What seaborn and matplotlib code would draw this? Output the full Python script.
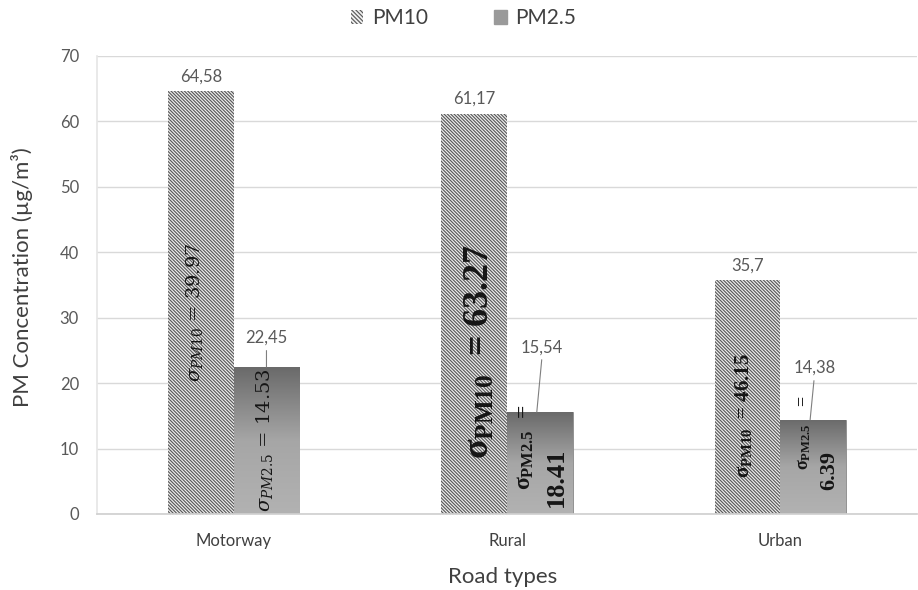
import numpy as np
import pandas as pd
import matplotlib
matplotlib.use("Agg")
import matplotlib.pyplot as plt
import seaborn as sns
from matplotlib.patches import Patch
from matplotlib.colors import LinearSegmentedColormap

# ---------------- data ----------------
road_types = ["Motorway", "Rural", "Urban"]
pm10 = [64.58, 61.17, 35.7]
pm25 = [22.45, 15.54, 14.38]
pm10_labels = ["64,58", "61,17", "35,7"]
pm25_labels = ["22,45", "15,54", "14,38"]
sigma_pm10 = ["39.97", "63.27", "46.15"]
sigma_pm25 = ["14.53", "18.41", "6.39"]
series = ["PM10", "PM2.5"]
yticks = [0, 10, 20, 30, 40, 50, 60, 70]

df = pd.DataFrame({
    "Road types": road_types * 2,
    "Series": [series[0]] * 3 + [series[1]] * 3,
    "Value": pm10 + pm25,
})

sns.set_theme(style="white")
plt.rcParams["font.family"] = ["Lato", "DejaVu Sans"]
plt.rcParams["hatch.linewidth"] = 0.85
plt.rcParams["mathtext.fontset"] = "custom"
plt.rcParams["mathtext.rm"] = "Liberation Serif:bold"
plt.rcParams["mathtext.it"] = "Liberation Serif:bold"
plt.rcParams["mathtext.bf"] = "Liberation Serif:bold"

fig = plt.figure(figsize=(9.18, 5.90), dpi=100)
ax = fig.add_axes([97 / 918, 1 - 514 / 590, 820 / 918, 458 / 590])

sns.barplot(data=df, x="Road types", y="Value", hue="Series",
            hue_order=series, order=road_types, width=0.48,
            ax=ax, legend=False, zorder=2)

HATCH = "\\" * 10

# PM10 bars: hatched
for bar in ax.containers[0]:
    bar.set_facecolor("#f0f0f0")
    bar.set_edgecolor("#5a5a5a")
    bar.set_hatch(HATCH)
    bar.set_linewidth(0)

# PM2.5 bars: vertical grey gradient clipped to each bar
cmap = LinearSegmentedColormap.from_list("g", ["#b2b2b2", "#a6a6a6", "#6a6a6a"])
grad = np.linspace(0, 1, 256).reshape(-1, 1)
for bar in ax.containers[1]:
    bar.set_facecolor("#9a9a9a")
    bar.set_edgecolor("#8a8a8a")
    bar.set_linewidth(0.6)
    x0, y0 = bar.get_x(), bar.get_y()
    w, h = bar.get_width(), bar.get_height()
    im = ax.imshow(grad, extent=[x0, x0 + w, y0, y0 + h], origin="lower",
                   aspect="auto", cmap=cmap, zorder=2.5)
    im.set_clip_path(bar)

ax.set_xlim(-0.5, 2.5)
ax.set_ylim(0, 70)
ax.set_yticks(yticks)
ax.grid(axis="y", color="#d9d9d9", linewidth=1, zorder=0)
for s in ["top", "right"]:
    ax.spines[s].set_visible(False)
ax.spines["left"].set_color("#e6e6e6")
ax.spines["bottom"].set_color("#d0d0d0")
ax.tick_params(axis="y", length=0, pad=13, labelsize=12, labelcolor="#595959")
ax.tick_params(axis="x", length=0, pad=14, labelsize=12, labelcolor="#404040")

ax.set_xlabel("Road types", fontsize=16, color="#404040")
ax.xaxis.set_label_coords(0.495, -0.115)
ax.set_ylabel("PM Concentration (µg/m³)", fontsize=16, color="#404040")
ax.yaxis.set_label_coords(-0.078, 0.517)

# data labels
lab_col = "#595959"
for i, bar in enumerate(ax.containers[0]):
    cx = bar.get_x() + bar.get_width() / 2
    ax.annotate(pm10_labels[i], (cx, bar.get_height()), xytext=(0, 5),
                textcoords="offset points", ha="center", va="bottom",
                fontsize=12, color=lab_col)

pm25_label_pos = [(0.0, 26.9), (0.008, 25.5), (0.004, 22.3)]
for i, bar in enumerate(ax.containers[1]):
    cx = bar.get_x() + bar.get_width() / 2
    dx, ly = pm25_label_pos[i]
    ax.text(cx + dx, ly, pm25_labels[i], ha="center", va="center",
            fontsize=12, color=lab_col, zorder=5)
    ax.annotate("", xy=(cx - 0.012 * (i > 0), bar.get_height() - 0.4),
                xytext=(cx + dx, ly - 1.5),
                arrowprops=dict(arrowstyle="-", color="#7f7f7f", lw=0.8),
                zorder=5)

# sigma annotations inside bars
tc = "#151515"

# Motorway (Cambria-math like)
ax.text(-0.143, 30.9, r"$\sigma_{PM10}$ = " + sigma_pm10[0],
        rotation=90, ha="center", va="center", fontsize=14, color=tc,
        family="DejaVu Serif", math_fontfamily="dejavuserif", zorder=6)
ax.text(0.113, 11.3, r"$\sigma_{PM2.5}$ = " + sigma_pm25[0],
        rotation=90, ha="center", va="center", fontsize=14, color=tc,
        family="DejaVu Serif", math_fontfamily="dejavuserif", zorder=6)

# Rural (bold serif)
ax.text(0.901, 24.9, r"$\sigma_{\mathrm{PM10}}$  = " + sigma_pm10[1],
        rotation=90, ha="center", va="center", fontsize=26, color=tc,
        family="Liberation Serif", weight="bold", math_fontfamily="custom",
        zorder=6)
ax.text(1.069, 10.2, r"$\sigma_{\mathrm{PM2.5}}$  =",
        rotation=90, ha="center", va="center", fontsize=17, color=tc,
        family="Liberation Serif", weight="bold", math_fontfamily="custom",
        zorder=6)
ax.text(1.18, 5.6, sigma_pm25[1],
        rotation=90, ha="center", va="center", fontsize=19, color=tc,
        family="Liberation Serif", weight="bold", zorder=6)

# Urban (bold serif, smaller)
ax.text(1.865, 15.0, r"$\sigma_{\mathrm{PM10}}$  = " + sigma_pm10[2],
        rotation=90, ha="center", va="center", fontsize=15, color=tc,
        family="Liberation Serif", weight="bold", math_fontfamily="custom",
        zorder=6)
ax.text(2.088, 12.5, r"$\sigma_{\mathrm{PM2.5}}$    =",
        rotation=90, ha="center", va="center", fontsize=13, color=tc,
        family="Liberation Serif", weight="bold", math_fontfamily="custom",
        zorder=6)
ax.text(2.179, 6.7, sigma_pm25[2],
        rotation=90, ha="center", va="center", fontsize=16, color=tc,
        family="Liberation Serif", weight="bold", zorder=6)

# legend
handles = [Patch(facecolor="#f0f0f0", edgecolor="#5a5a5a", hatch="\\" * 8, linewidth=0),
           Patch(facecolor="#9a9a9a", edgecolor="#9a9a9a")]
fig.legend(handles, series, loc="center", bbox_to_anchor=(0.505, 0.969),
           ncol=2, frameon=False, fontsize=15, handlelength=0.6,
           handleheight=0.6, handletextpad=0.4, columnspacing=3.2,
           labelcolor="#404040")

fig.savefig("out.png", dpi=100)
